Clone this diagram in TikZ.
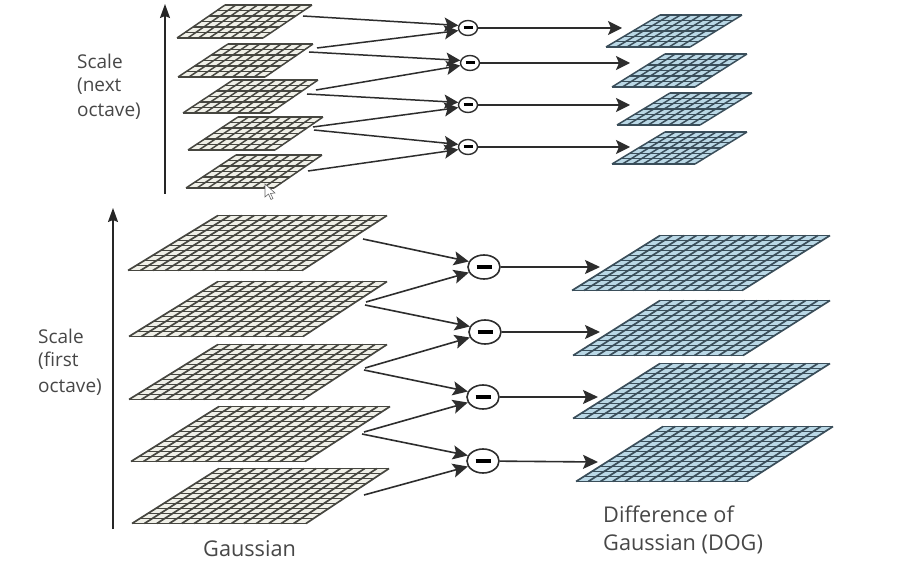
\documentclass[tikz,border=0pt]{standalone}
\usepackage{fontspec}
\setmainfont{Open Sans}
\usetikzlibrary{arrows.meta,shapes.geometric}
\definecolor{gcell}{RGB}{240,240,232}
\definecolor{gline}{RGB}{70,70,64}
\definecolor{dcell}{RGB}{186,216,230}
\definecolor{dline}{RGB}{58,78,90}
\definecolor{conn}{RGB}{45,45,45}
% \plane{TLx}{TRx}{BLx}{BRx}{topy}{boty}{cols}{g|d}
\newcommand{\plane}[8]{%
  \fill[#8cell] (#3,#6) -- (#4,#6) -- (#2,#5) -- (#1,#5) -- cycle;
  \foreach \ii in {0,...,#7}{
    \pgfmathsetmacro{\tv}{\ii/#7}
    \draw[#8line,gridline] ({#3+(#4-#3)*\tv},#6) -- ({#1+(#2-#1)*\tv},#5);
  }
  \pgfmathtruncatemacro{\rr}{#7*0.8}
  \foreach \ii in {0,...,\rr}{
    \pgfmathsetmacro{\tv}{\ii/\rr}
    \draw[#8line,rowline] ({#3+(#1-#3)*\tv},{#6+(#5-#6)*\tv}) -- ({#4+(#2-#4)*\tv},{#6+(#5-#6)*\tv});
  }
}
\tikzset{
  gridline/.style={line width=1.7pt},
  rowline/.style={line width=1.5pt},
  minusbig/.style={draw=conn,ellipse,line width=1.6pt,fill=white,minimum width=32pt,minimum height=24pt,inner sep=0pt},
  minussmall/.style={draw=conn,ellipse,line width=1.4pt,fill=white,minimum width=19pt,minimum height=15pt,inner sep=0pt},
  conbig/.style={draw=conn,line width=1.6pt,-{Stealth[length=15pt,width=14pt,inset=3pt]}},
  consmall/.style={draw=conn,line width=1.5pt,-{Stealth[length=14pt,width=14pt,inset=3pt]}},
  axis/.style={draw=black!85,line width=1.5pt,-{Stealth[length=14pt,width=10pt,inset=2pt]}},
  lab/.style={anchor=west,inner sep=0pt,font=\fontsize{19}{19}\selectfont,text=black!72},
  labbig/.style={lab,font=\fontsize{21.7}{21.7}\selectfont}
}
\begin{document}
\begin{tikzpicture}[x=1pt,y=-1pt]
\useasboundingbox (0,0) rectangle (907,572);
\fill[white] (0,0) rectangle (907,572);
% large Gaussian planes
\plane{218}{387}{128}{302}{215.5}{270.5}{14}{g}
\plane{218}{387}{129}{303}{281.5}{336.5}{14}{g}
\plane{218}{387}{129}{303}{344.5}{399.5}{14}{g}
\plane{219}{390}{131}{305}{406.5}{461.5}{14}{g}
\plane{219}{389}{132}{306}{468.5}{523.5}{14}{g}
% large DoG planes
\plane{660}{830}{572}{742}{235.5}{290.5}{14}{d}
\plane{660}{830}{573}{743}{300.5}{355.5}{14}{d}
\plane{660}{830}{573}{743}{363.5}{418.5}{14}{d}
\plane{663}{833}{576}{747}{426.5}{481.5}{14}{d}
% small Gaussian planes
\tikzset{gridline/.style={line width=1.5pt},rowline/.style={line width=1.3pt}}
\plane{225}{312}{177}{263}{5}{38}{8}{g}
\plane{228}{313}{178}{265}{44}{77}{8}{g}
\plane{233}{318}{183}{270}{80}{113}{8}{g}
\plane{238}{323}{188}{275}{117}{150}{8}{g}
\plane{236}{322}{186}{274}{155}{188}{8}{g}
% small DoG planes
\plane{660}{742}{606}{690}{15}{47}{8}{d}
\plane{665}{747}{612}{695}{54}{87}{8}{d}
\plane{670}{752}{617}{700}{93}{125}{8}{d}
\plane{665}{747}{612}{695}{132}{164}{8}{d}
% minus nodes
\node[minusbig] (b1) at (484,267) {\rule{15pt}{3.5pt}};
\node[minusbig] (b2) at (485,332) {\rule{15pt}{3.5pt}};
\node[minusbig] (b3) at (483,397) {\rule{15pt}{3.5pt}};
\node[minusbig] (b4) at (483,461) {\rule{15pt}{3.5pt}};
\node[minussmall] (s1) at (468,28) {\rule{9pt}{3pt}};
\node[minussmall] (s2) at (470,63) {\rule{9pt}{3pt}};
\node[minussmall] (s3) at (468,105) {\rule{9pt}{3pt}};
\node[minussmall] (s4) at (468,147) {\rule{9pt}{3pt}};
% start and end points
\coordinate (ga) at (363,239); \coordinate (gb) at (366,302); \coordinate (gc) at (365,305);
\coordinate (gd) at (365,368); \coordinate (ge) at (364,370); \coordinate (gf) at (364,432);
\coordinate (gg) at (362,434); \coordinate (gh) at (364,495);
\coordinate (sa) at (303,16); \coordinate (sb) at (317,48); \coordinate (sc) at (309,52);
\coordinate (sd) at (316,90); \coordinate (se) at (307,94); \coordinate (sf) at (313,127);
\coordinate (sg) at (314,130); \coordinate (sh) at (308,171);
\coordinate (da) at (600,267); \coordinate (db) at (600,332); \coordinate (dc) at (598,397); \coordinate (dd) at (598,462);
\coordinate (ta) at (622,28); \coordinate (tb) at (630,63); \coordinate (tc) at (630,105); \coordinate (td) at (630,147);
\coordinate (ax1a) at (165,194); \coordinate (ax1b) at (165,4);
\coordinate (ax2a) at (113,529); \coordinate (ax2b) at (113,208);
% connectors, large
\draw[conbig] (ga) -- (b1.160);
\draw[conbig] (gb) -- (b1.200);
\draw[conbig] (gc) -- (b2.160);
\draw[conbig] (gd) -- (b2.200);
\draw[conbig] (ge) -- (b3.160);
\draw[conbig] (gf) -- (b3.200);
\draw[conbig] (gg) -- (b4.160);
\draw[conbig] (gh) -- (b4.200);
\draw[conbig] (b1) -- (da);
\draw[conbig] (b2) -- (db);
\draw[conbig] (b3) -- (dc);
\draw[conbig] (b4) -- (dd);
% connectors, small
\draw[consmall] (sa) -- (s1.165);
\draw[consmall] (sb) -- (s1.195);
\draw[consmall] (sc) -- (s2.165);
\draw[consmall] (sd) -- (s2.195);
\draw[consmall] (se) -- (s3.165);
\draw[consmall] (sf) -- (s3.195);
\draw[consmall] (sg) -- (s4.165);
\draw[consmall] (sh) -- (s4.195);
\draw[consmall] (s1) -- (ta);
\draw[consmall] (s2) -- (tb);
\draw[consmall] (s3) -- (tc);
\draw[consmall] (s4) -- (td);
% axes
\draw[axis] (ax1a) -- (ax1b);
\draw[axis] (ax2a) -- (ax2b);
% labels
\node[lab] (l1) at (77,61) {Scale};
\node[lab] (l2) at (77,86) {(next};
\node[lab] (l3) at (77,111) {octave)};
\node[lab] (l4) at (38,336) {Scale};
\node[lab] (l5) at (38,361) {(first};
\node[lab] (l6) at (38,387) {octave)};
\node[labbig] (l7) at (203,549) {Gaussian};
\node[labbig] (l8) at (603,514) {Difference of};
\node[labbig] (l9) at (603,544) {Gaussian (DOG)};
% mouse pointer
\draw[black!60,fill=white,line width=.6pt] (265,184) -- (265,197) -- (268.5,194) -- (271,199.5) -- (273,198.5) -- (270.5,193.5) -- (275,193) -- cycle;
\end{tikzpicture}
\end{document}
